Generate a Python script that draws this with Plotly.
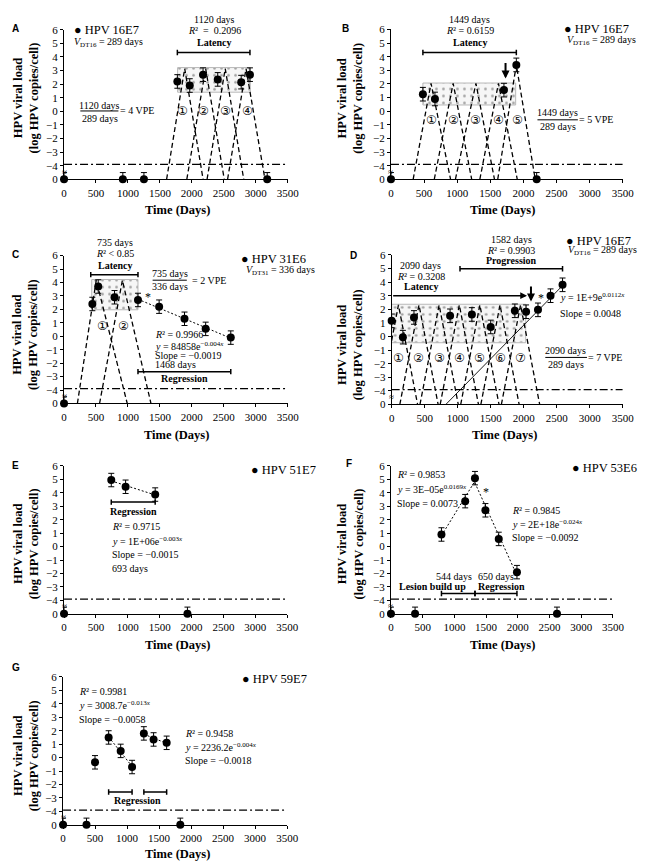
import plotly.graph_objects as go
import numpy as np

W, H = 646, 861
SERIF = "Liberation Serif"
BASE = -5      # axis position of the "0" drawn below the axis break
ND = None      # not detected -> plotted on the bottom "0"

# ---------------- data (days, log HPV copies/cell) ----------------
A_days = [0, 920, 1250, 1773, 1967, 2175, 2405, 2772, 2909, 3179]
A_load = [ND, ND, ND, 2.2, 1.9, 2.7, 2.35, 2.15, 2.7, ND]
A_vpe_x = [[1605, 1888, 2176], [1921, 2216, 2507], [2238, 2522, 2812], [2559, 2848, 3144]]
A_vpe_top = [3.15, 3.15, 3.15, 3.15]
A_lab_x = [1855, 2186, 2522, 2863]

B_days = [0, 482, 664, 1706, 1893, 2200]
B_load = [ND, 1.25, 0.9, 1.55, 3.4, ND]
B_vpe_x = [[335, 605, 900], [654, 939, 1219], [973, 1283, 1563], [1342, 1623, 1907], [1612, 1893, 2178]]
B_vpe_top = [2.05, 2.05, 2.05, 2.05, 3.4]
B_lab_x = [605, 939, 1283, 1623, 1907]

C_days = [0, 443, 535, 790, 1157, 1488, 1885, 2216, 2609]
C_load = [ND, 2.4, 3.7, 2.9, 2.7, 2.2, 1.3, 0.55, -0.1]
C_vpe_x = [[209, 504, 989], [556, 913, 1360]]
C_vpe_top = [4.17, 4.17]
C_lab_x = [596, 927]

D_days = [0, 170, 338, 885, 1215, 1500, 1866, 2036, 2216, 2406, 2588]
D_load = [1.15, -0.05, 1.4, 1.52, 1.62, 0.7, 1.89, 1.82, 1.96, 3.0, 3.8]
D_vpe_x = [[0, 103, 393], [124, 414, 704], [429, 719, 1009], [735, 1025, 1315],
           [1046, 1336, 1626], [1351, 1641, 1931], [1662, 1952, 2242]]
D_vpe_start = [-0.3, BASE, BASE, BASE, BASE, BASE, BASE]
D_vpe_top = [2.32] * 7
D_lab_x = [103, 414, 719, 1025, 1336, 1641, 1952]
D_trend_x = [820, 2620]
D_trend_y = [BASE, 3.9]

E_days = [0, 741, 966, 1430, 1936]
E_load = [ND, 4.95, 4.45, 3.87, ND]

F_days = [0, 380, 796, 1170, 1324, 1489, 1699, 1986, 2617]
F_load = [ND, ND, 0.9, 3.38, 5.09, 2.7, 0.57, -1.9, ND]

G_days = [0, 366, 499, 712, 900, 1078, 1262, 1414, 1618, 1831]
G_load = [ND, ND, -0.35, 1.5, 0.5, -0.7, 1.8, 1.35, 1.1, ND]

X_TICKS = [0, 500, 1000, 1500, 2000, 2500, 3000, 3500]
Y_TICKVALS = list(range(-5, 7))
Y_TICKTEXT = ["0", "\u22124", "\u22123", "\u22122", "\u22121", "0", "1", "2", "3", "4", "5", "6"]
DETECT = -3.9

# plot areas in pixels: x0, x1, y_top(6), y_bottom(0)
BOXES = {
    1: (54.3, 283.3, 16.0, 167.7),
    2: (389.0, 626.3, 15.7, 167.7),
    3: (54.3, 283.3, 245.0, 395.0),
    4: (389.7, 626.3, 244.3, 396.0),
    5: (54.3, 282.7, 458.3, 608.3),
    6: (389.0, 616.3, 458.3, 608.3),
    7: (53.3, 282.7, 672.3, 822.3),
}

fig = go.Figure()


def ax(k):
    s = "" if k == 1 else str(k)
    return "x" + s, "y" + s


def to_paper(k, x, y):
    x0, x1, yt, yb = BOXES[k]
    px = x0 + x / 3500 * (x1 - x0)
    py = yb - (y - BASE) / (6 - BASE) * (yb - yt)
    return px / W, 1 - py / H


def add_line(k, x, y, dash="solid", width=1.2, color="black"):
    xr, yr = ax(k)
    fig.add_trace(go.Scatter(x=x, y=y, mode="lines", xaxis=xr, yaxis=yr,
                             line=dict(color=color, width=width, dash=dash),
                             showlegend=False, hoverinfo="skip"))


def add_points(k, days, load):
    xr, yr = ax(k)
    y = [BASE if v is ND else v for v in load]
    fig.add_trace(go.Scatter(x=days, y=y, mode="markers", xaxis=xr, yaxis=yr,
                             marker=dict(color="black", size=8),
                             error_y=dict(type="constant", value=0.5, color="black",
                                          thickness=1, width=3),
                             cliponaxis=False, showlegend=False))


def add_box(k, x0, x1, y0, y1):
    xr, yr = ax(k)
    fig.add_trace(go.Scatter(x=[x0, x1, x1, x0, x0], y=[y0, y0, y1, y1, y0],
                             mode="lines", fill="toself", xaxis=xr, yaxis=yr,
                             line=dict(color="#b8b8b8", width=1),
                             fillcolor="#f6f6f6",
                             fillpattern=dict(shape=".", fgcolor="#444444", bgcolor="#f6f6f6",
                                              size=7, solidity=0.12),
                             showlegend=False, hoverinfo="skip"))


def add_vpe(k, xs, tops, starts=None):
    for i, tri in enumerate(xs):
        y0 = BASE if starts is None else starts[i]
        add_line(k, tri, [y0, tops[i], BASE], dash="5px,3px", width=1.3)


def txt(k, x, y, s, size=10, anchor="center", family=SERIF):
    px, py = to_paper(k, x, y)
    fig.add_annotation(x=px, y=py, xref="paper", yref="paper", text=s, showarrow=False,
                       xanchor=anchor, yanchor="middle", borderpad=0,
                       font=dict(family=family, size=size, color="black"))


def circled(k, xs, y):
    for i, x in enumerate(xs):
        txt(k, x, y, chr(0x2460 + i), size=12, family="DejaVu Sans")


def bracket(k, x0, x1, y, cap=0.2):
    add_line(k, [x0, x0, x0, x1, x1, x1], [y + cap, y - cap, y, y, y + cap, y - cap], width=1.5)


def arrow(k, x0, y0, x1, y1, width=1.2, head=2, size=1.0):
    xr, yr = ax(k)
    fig.add_annotation(x=x1, y=y1, ax=x0, ay=y0, xref=xr, yref=yr, axref=xr, ayref=yr,
                       text="", showarrow=True, arrowhead=head, arrowwidth=width,
                       arrowsize=size, arrowcolor="black")


def fraction(k, xc, x0, x1, yn, yb, yd, num, den, rhs, xr_left):
    txt(k, xc, yn, num)
    add_line(k, [x0, x1], [yb, yb], width=1)
    txt(k, xc, yd, den)
    txt(k, xr_left, yb, rhs, anchor="left")


def add_fit(k, days, load, i0, i1):
    x = np.array(days[i0:i1 + 1], dtype=float)
    y = np.array(load[i0:i1 + 1], dtype=float)
    p = np.polyfit(x, y, 1)
    xs = [x[0], x[-1]]
    add_line(k, xs, list(np.polyval(p, xs)), dash="2px,2px", width=1)


def legend(k, x, y, name):
    txt(k, x, y, "\u25cf " + name, size=12.5, anchor="left")


def ptxt(px, py, s, size=12.5, angle=0, family=SERIF):
    fig.add_annotation(x=px / W, y=1 - py / H, xref="paper", yref="paper", text=s,
                       showarrow=False, textangle=angle, xanchor="center", yanchor="middle",
                       borderpad=0, font=dict(family=family, size=size, color="black"))


# common pieces
for k in range(1, 8):
    add_line(k, [0, 3500], [DETECT, DETECT], dash="8px,3px,2px,3px", width=1.2)
    txt(k, 0, -4.45, "\u2248", size=9)

# ---------------- A ----------------
add_box(1, 1777, 2914, 1.41, 3.22)
add_vpe(1, A_vpe_x, A_vpe_top)
add_points(1, A_days, A_load)
circled(1, A_lab_x, 0.03)
bracket(1, 1773, 2909, 4.33)
txt(1, 2354, 5.06, "<b>Latency</b>")
txt(1, 2354, 5.95, "<i>R</i>\u00b2  =  0.2096")
txt(1, 2354, 6.75, "1120 days")
legend(1, 138, 6.02, "HPV 16E7")
txt(1, 148, 5.1, "<i>V</i><sub>DT16</sub> = 289 days", anchor="left")
fraction(1, 555, 255, 851, 0.46, 0.03, -0.53, "1120 days", "289 days", "= 4 VPE", 860)

# ---------------- B ----------------
add_box(2, 482, 1883, 0.46, 2.07)
add_vpe(2, B_vpe_x, B_vpe_top)
add_points(2, B_days, B_load)
circled(2, B_lab_x, -0.63)
bracket(2, 482, 1893, 4.31)
txt(2, 1190, 5.03, "<b>Latency</b>")
txt(2, 1190, 5.93, "<i>R</i>\u00b2 = 0.6159")
txt(2, 1190, 6.72, "1449 days")
legend(2, 2600, 6.0, "HPV 16E7")
txt(2, 2640, 5.2, "<i>V</i><sub>DT16</sub> = 289 days", anchor="left")
arrow(2, 1730, 3.65, 1730, 2.4, width=2, head=2, size=0.8)
fraction(2, 2517, 2212, 2822, -0.1, -0.63, -1.14, "1449 days", "289 days", "= 5 VPE", 2827)

# ---------------- C ----------------
add_box(3, 433, 1157, 1.97, 4.22)
add_vpe(3, C_vpe_x, C_vpe_top)
add_fit(3, C_days, C_load, 4, 8)
add_points(3, C_days, C_load)
circled(3, C_lab_x, 0.74)
bracket(3, 418, 1157, 4.58)
txt(3, 790, 5.27, "<b>Latency</b>")
txt(3, 790, 6.12, "<i>R</i>\u00b2 &lt; 0.85")
txt(3, 790, 6.98, "735 days")
legend(3, 2761, 5.76, "HPV 31E6")
txt(3, 2838, 4.9, "<i>V</i><sub>DT31</sub> = 336 days", anchor="left")
fraction(3, 1651, 1386, 1921, 4.66, 4.17, 3.68, "735 days", "336 days", "= 2 VPE", 1982)
txt(3, 1310, 2.94, "*", size=12)
txt(3, 1411, 0.13, "<i>R</i>\u00b2 = 0.9966", anchor="left")
txt(3, 1411, -0.72, "<i>y</i> = 84858e<sup>\u22120.004<i>x</i></sup>", anchor="left")
txt(3, 1411, -1.41, "Slope = \u22120.0019", anchor="left")
txt(3, 1411, -2.09, "1468 days", anchor="left")
bracket(3, 1157, 2609, -2.63)
txt(3, 1885, -3.12, "<b>Regression</b>")

# ---------------- D ----------------
add_box(4, 0, 2030, -0.46, 2.37)
add_vpe(4, D_vpe_x, D_vpe_top, D_vpe_start)
add_line(4, D_trend_x, D_trend_y, width=0.9)
add_points(4, D_days, D_load)
circled(4, D_lab_x, -1.59)
arrow(4, 0, 3.0, 2050, 3.0, width=1.5, head=2, size=0.9)
txt(4, 444, 3.65, "<b>Latency</b>")
txt(4, 444, 4.43, "<i>R</i>\u00b2 = 0.3208")
txt(4, 444, 5.23, "2090 days")
bracket(4, 1035, 2588, 4.98)
txt(4, 1809, 5.59, "<b>Progression</b>")
txt(4, 1809, 6.31, "<i>R</i>\u00b2 = 0.9903")
txt(4, 1809, 7.16, "1582 days")
legend(4, 2623, 6.99, "HPV 16E7")
txt(4, 2662, 6.31, "<i>V</i><sub>DT16</sub> = 289 days", anchor="left")
arrow(4, 2110, 3.78, 2110, 2.57, width=2, head=2, size=0.8)
txt(4, 2268, 2.85, "*", size=12)
txt(4, 2539, 2.93, "<i>y</i> = 1E+9e<sup>0.0112<i>x</i></sup>", anchor="left")
txt(4, 2539, 1.72, "Slope = 0.0048", anchor="left")
fraction(4, 2638, 2327, 2958, -1.01, -1.54, -2.03, "2090 days", "289 days", "= 7 VPE", 2962)

# ---------------- E ----------------
add_fit(5, E_days, E_load, 1, 3)
add_points(5, E_days, E_load)
bracket(5, 741, 1430, 3.31)
txt(5, 1083, 2.58, "<b>Regression</b>")
txt(5, 741, 1.48, "<i>R</i>\u00b2 = 0.9715", anchor="left")
txt(5, 741, 0.45, "<i>y</i> = 1E+06e<sup>\u22120.003<i>x</i></sup>", anchor="left")
txt(5, 741, -0.6, "Slope = \u22120.0015", anchor="left")
txt(5, 741, -1.62, "693 days", anchor="left")
legend(5, 2912, 5.68, "HPV 51E7")

# ---------------- F ----------------
add_fit(6, F_days, F_load, 2, 4)
add_fit(6, F_days, F_load, 4, 7)
add_points(6, F_days, F_load)
txt(6, 1504, 4.04, "*", size=12)
txt(6, 87, 5.34, "<i>R</i>\u00b2 = 0.9853", anchor="left")
txt(6, 87, 4.29, "<i>y</i> = 3E\u201305e<sup>0.0169<i>x</i></sup>", anchor="left")
txt(6, 87, 3.19, "Slope = 0.0073", anchor="left")
txt(6, 1899, 2.7, "<i>R</i>\u00b2 = 0.9845", anchor="left")
txt(6, 1899, 1.65, "<i>y</i> = 2E+18e<sup>\u22120.024<i>x</i></sup>", anchor="left")
txt(6, 1899, 0.69, "Slope = \u22120.0092", anchor="left")
txt(6, 1000, -2.26, "544 days")
txt(6, 1652, -2.26, "650 days")
txt(6, 662, -2.97, "<b>Lesion build up</b>")
txt(6, 1750, -2.97, "<b>Regression</b>")
bracket(6, 796, 1324, -3.49)
bracket(6, 1324, 1986, -3.49)
legend(6, 2840, 5.83, "HPV 53E6")

# ---------------- G ----------------
add_fit(7, G_days, G_load, 3, 5)
add_fit(7, G_days, G_load, 6, 8)
add_points(7, G_days, G_load)
txt(7, 229, 4.88, "<i>R</i>\u00b2 = 0.9981", anchor="left")
txt(7, 229, 3.9, "<i>y</i> = 3008.7e<sup>\u22120.013<i>x</i></sup>", anchor="left")
txt(7, 229, 2.87, "Slope = \u22120.0058", anchor="left")
txt(7, 1882, 1.77, "<i>R</i>\u00b2 = 0.9458", anchor="left")
txt(7, 1882, 0.8, "<i>y</i> = 2236.2e<sup>\u22120.004<i>x</i></sup>", anchor="left")
txt(7, 1882, -0.23, "Slope = \u22120.0018", anchor="left")
bracket(7, 712, 1078, -2.56)
bracket(7, 1262, 1618, -2.56)
txt(7, 1170, -3.2, "<b>Regression</b>")
legend(7, 2772, 5.85, "HPV 59E7")

# ---------------- axes ----------------
layout = dict(
    width=W, height=H, margin=dict(l=0, r=0, t=0, b=0),
    paper_bgcolor="white", plot_bgcolor="white", showlegend=False,
    font=dict(family=SERIF, color="black"),
)
for k, (x0, x1, yt, yb) in BOXES.items():
    s = "" if k == 1 else str(k)
    layout["xaxis" + s] = dict(
        domain=[x0 / W, x1 / W], anchor="y" + s, range=[0, 3500],
        tickvals=X_TICKS, showline=True, linecolor="black", linewidth=1,
        ticks="outside", ticklen=3, tickcolor="black", showgrid=False, zeroline=False,
        tickfont=dict(family=SERIF, size=11, color="black"),
    )
    layout["yaxis" + s] = dict(
        domain=[1 - yb / H, 1 - yt / H], anchor="x" + s, range=[BASE, 6],
        tickvals=Y_TICKVALS, ticktext=Y_TICKTEXT, showline=True, linecolor="black",
        linewidth=1, ticks="outside", ticklen=3, tickcolor="black", showgrid=False,
        zeroline=False, tickfont=dict(family=SERIF, size=11, color="black"),
    )
fig.update_layout(**layout)

# axis titles and panel letters
YTITLE = "<b>HPV viral load</b><br><b>(log HPV copies/cell)</b>"
XTITLE = "<b>Time (Days)</b>"
for (yx, yy, xx, xy) in [(15, 85, 170, 199), (347, 85, 503, 199), (15, 325, 169, 427),
                         (347, 335, 505, 427), (15, 537, 170, 640), (347, 537, 503, 640),
                         (15, 752, 170, 852)]:
    ptxt(yx, yy, YTITLE, angle=-90)
    ptxt(xx, xy, XTITLE)
for letter, (lx, ly) in zip("ABCDEFG", [(5, 15), (342, 15), (5, 244), (351, 245),
                                        (5, 458), (346, 456), (5, 663)]):
    ptxt(lx, ly, "<b>" + letter + "</b>", size=10, family="Liberation Sans")

fig.write_html("out.html")
